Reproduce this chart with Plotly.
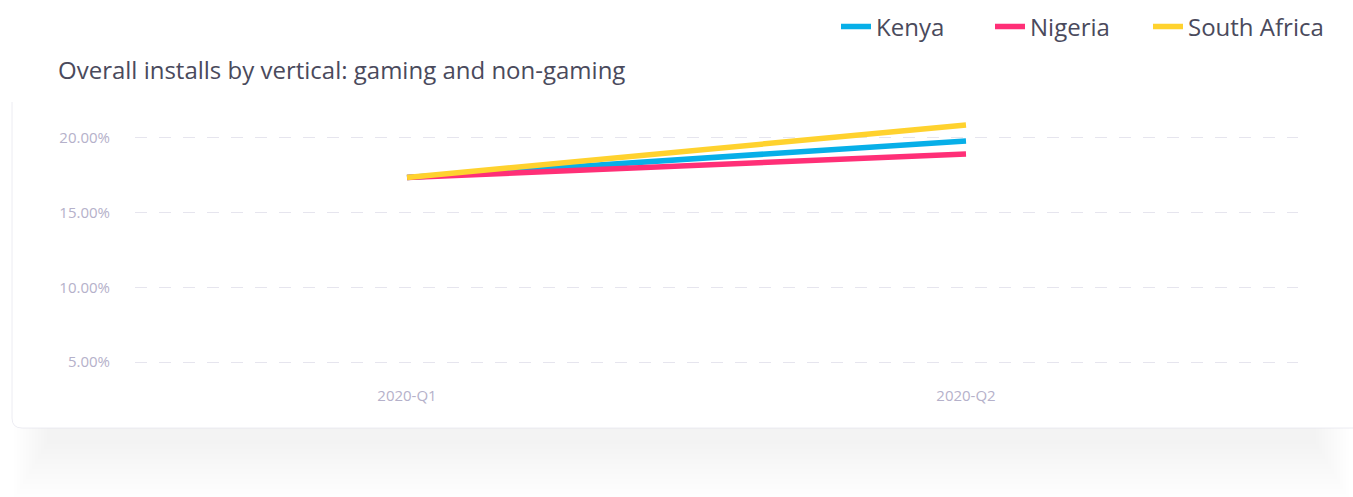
import plotly.graph_objects as go

quarters = ["2020-Q1", "2020-Q2"]
kenya = [17.35, 19.80]
nigeria = [17.35, 18.93]
south_africa = [17.35, 20.87]
y_ticks = [5, 10, 15, 20]
y_tick_labels = ["5.00%", "10.00%", "15.00%", "20.00%"]

W, H = 1353, 497
L, R, T, B = 135, 55, 110, 112
pw, ph = W - L - R, H - T - B


def px(x):
    return (x - L) / pw


def py(y):
    return (H - B - y) / ph


FONT = "Open Sans"
TEXT = "#4a4a5c"

fig = go.Figure()
series = [("Kenya", kenya, "#07afe8", "legend", 877),
          ("Nigeria", nigeria, "#ff2f77", "legend2", 1031),
          ("South Africa", south_africa, "#ffd22e", "legend3", 1189)]
legend_cfg = {}
for name, vals, col, lg, text_x in series:
    fig.add_trace(go.Scatter(x=quarters, y=vals, name=name, mode="lines", legend=lg,
                             line=dict(color=col, width=5.5), hoverinfo="x+y+name"))
    legend_cfg[lg] = dict(orientation="h", xanchor="left", x=px(text_x - 41),
                          yanchor="middle", y=py(27),
                          font=dict(family=FONT, size=24, color=TEXT),
                          bgcolor="rgba(0,0,0,0)")

shapes = []
# soft shadow under card
for i in range(12):
    shapes.append(dict(type="rect", xref="paper", yref="paper", layer="below",
                       x0=px(14 + i * 3), x1=px(W - 4 - i * 3),
                       y0=py(424), y1=py(499 - i * 5),
                       fillcolor="rgba(120,120,145,0.0065)", line=dict(width=0)))
# card with rounded bottom-left corner
cx0, cx1, cy0, cy1 = 12, W + 20, 98, 428
r = 10
path = (f"M {px(cx0)},{py(cy0)} L {px(cx1)},{py(cy0)} L {px(cx1)},{py(cy1)} "
        f"L {px(cx0 + r)},{py(cy1)} Q {px(cx0)},{py(cy1)} {px(cx0)},{py(cy1 - r)} Z")
shapes.append(dict(type="path", xref="paper", yref="paper", layer="below", path=path,
                   fillcolor="white", line=dict(width=0)))
edge = (f"M {px(cx0)},{py(cy0 + 4)} L {px(cx0)},{py(cy1 - r)} "
        f"Q {px(cx0)},{py(cy1)} {px(cx0 + r)},{py(cy1)} L {px(cx1)},{py(cy1)}")
shapes.append(dict(type="path", xref="paper", yref="paper", layer="below", path=edge,
                   line=dict(color="rgba(228,228,236,0.7)", width=1)))

fig.update_layout(
    width=W, height=H,
    margin=dict(l=L, r=R, t=T, b=B, autoexpand=False),
    paper_bgcolor="white", plot_bgcolor="rgba(0,0,0,0)",
    shapes=shapes,
    showlegend=True,
    annotations=[dict(text="Overall installs by vertical: gaming and non-gaming",
                      xref="paper", yref="paper", x=px(56), y=py(70),
                      xanchor="left", yanchor="middle", showarrow=False,
                      font=dict(family=FONT, size=24, color=TEXT))],
    xaxis=dict(type="category", range=[-(407 - L) / 559, 1 + (L + pw - 966) / 559],
               showgrid=False, zeroline=False, showline=False, ticks="",
               tickfont=dict(family=FONT, size=15, color="#b5b1ca"),
               ticklabelstandoff=0),
    yaxis=dict(range=[5 - (H - B - 362) / 15, 20 + (138 - T) / 15],
               tickvals=y_ticks, ticktext=y_tick_labels,
               showgrid=True, gridcolor="#e6e5ee", griddash="12px,12px", gridwidth=1,
               zeroline=False, showline=False, ticks="",
               tickfont=dict(family=FONT, size=15, color="#b5b1ca"),
               ticklabelstandoff=24),
    **legend_cfg,
)

fig.write_html("out.html")
